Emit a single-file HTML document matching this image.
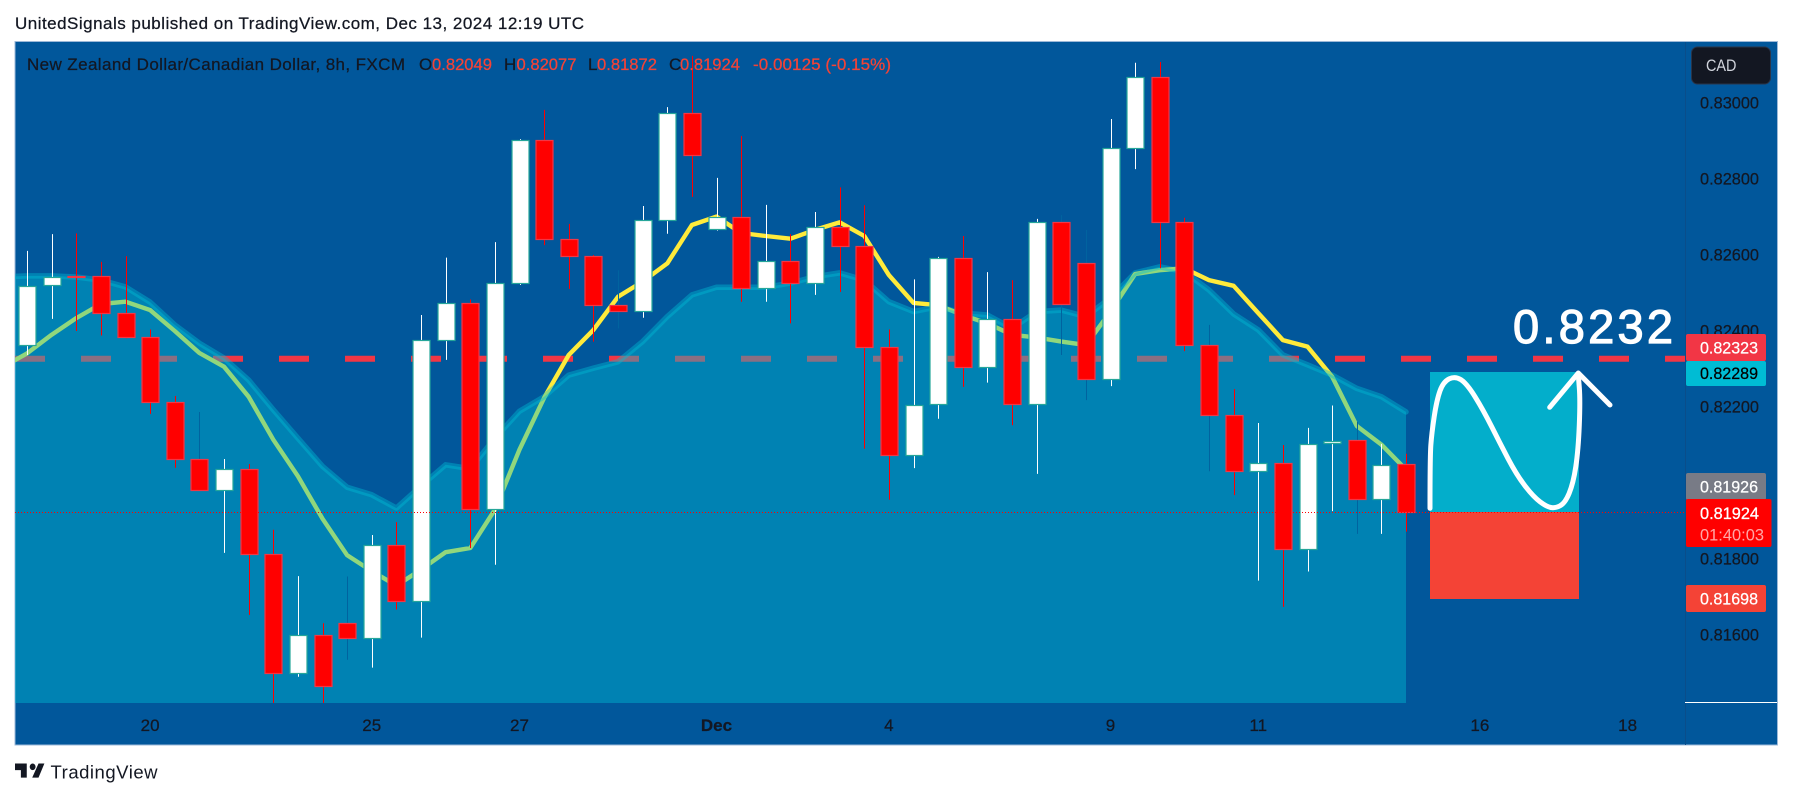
<!DOCTYPE html>
<html lang="en">
<head>
<meta charset="utf-8">
<title>NZD/CAD 8h chart</title>
<style>
html,body{margin:0;padding:0;background:#fff;width:1793px;height:798px;overflow:hidden}
svg{display:block}
text{font-family:"Liberation Sans",sans-serif}
</style>
</head>
<body>
<svg id="chart" xmlns="http://www.w3.org/2000/svg" width="1793" height="798" viewBox="0 0 1793 798">
  <defs>
    <clipPath id="pane-clip"><rect x="15" y="41" width="1671" height="662"/></clipPath>
  </defs>
  <rect x="0" y="0" width="1793" height="798" fill="#ffffff"/>
  <text x="15" y="29" font-size="17" fill="#131722" stroke="#131722" stroke-width="0.25" textLength="569" lengthAdjust="spacing">UnitedSignals published on TradingView.com, Dec 13, 2024 12:19 UTC</text>
  <rect x="15" y="41.5" width="1762.5" height="703.5" fill="#01579b" stroke="#9db9d8" stroke-width="1"/>
  <g id="pane" clip-path="url(#pane-clip)"></g>
  <line x1="1685.5" y1="42" x2="1685.5" y2="745" stroke="#0a4d8a" stroke-width="1"/>
  <line x1="1685" y1="702.5" x2="1777" y2="702.5" stroke="#ffffff" stroke-width="1"/>
  <g id="price-axis"></g>
  <g id="time-axis"></g>

  <g>
    <rect x="1430" y="372" width="149" height="140" fill="#03aecb"/>
    <rect x="1430" y="512" width="149" height="87" fill="#f44336"/>
  </g>
  <line id="last-price-line" x1="15" x2="1686" stroke="#ff0000" stroke-width="1" stroke-dasharray="1 2"/>
  <path id="forecast-curve" fill="none" stroke="#ffffff" stroke-width="5" stroke-linecap="round" stroke-linejoin="round"/>
  <path d="M1549.7 407.3 L1578.3 373 L1610 405" fill="none" stroke="#ffffff" stroke-width="5" stroke-linecap="round" stroke-linejoin="round"/>
  <text x="1513" y="343" font-size="47" fill="#ffffff" stroke="#ffffff" stroke-width="1.2" textLength="160" lengthAdjust="spacing">0.8232</text>

  <g font-size="17" stroke-width="0.25">
    <text x="27" y="70" fill="#131722" stroke="#131722" textLength="378" lengthAdjust="spacing">New Zealand Dollar/Canadian Dollar, 8h, FXCM</text>
    <text x="419" y="70" fill="#131722" stroke="#131722">O</text>
    <text x="432" y="70" fill="#f44336" stroke="#f44336" textLength="60" lengthAdjust="spacingAndGlyphs">0.82049</text>
    <text x="504" y="70" fill="#131722" stroke="#131722">H</text>
    <text x="516.5" y="70" fill="#f44336" stroke="#f44336" textLength="60" lengthAdjust="spacingAndGlyphs">0.82077</text>
    <text x="588" y="70" fill="#131722" stroke="#131722">L</text>
    <text x="597" y="70" fill="#f44336" stroke="#f44336" textLength="60" lengthAdjust="spacingAndGlyphs">0.81872</text>
    <text x="669" y="70" fill="#131722" stroke="#131722">C</text>
    <text x="680" y="70" fill="#f44336" stroke="#f44336" textLength="60" lengthAdjust="spacingAndGlyphs">0.81924</text>
    <text x="753" y="70" fill="#f44336" stroke="#f44336" textLength="138" lengthAdjust="spacing">-0.00125 (-0.15%)</text>
  </g>

  <g>
    <rect x="1691.5" y="47" width="79" height="37" rx="6" fill="#131722" stroke="#2a3448"/>
    <text x="1706" y="71" font-size="17" fill="#d1d4dc" textLength="30.5" lengthAdjust="spacingAndGlyphs">CAD</text>
  </g>

  <g font-size="17">
    <rect x="1686" y="334" width="80" height="27" rx="2" fill="#f23645"/>
    <text x="1700" y="353.5" fill="#ffffff" stroke="#ffffff" stroke-width="0.25" textLength="58" lengthAdjust="spacingAndGlyphs">0.82323</text>
    <rect x="1686" y="361" width="80" height="25" rx="2" fill="#00bcd4"/>
    <text x="1700" y="379" fill="#000000" stroke="#000000" stroke-width="0.25" textLength="58" lengthAdjust="spacingAndGlyphs">0.82289</text>
    <rect x="1686" y="473" width="80" height="27" rx="2" fill="#787b86"/>
    <text x="1700" y="492.5" fill="#ffffff" stroke="#ffffff" stroke-width="0.25" textLength="58" lengthAdjust="spacingAndGlyphs">0.81926</text>
    <rect x="1686" y="499" width="85.5" height="48" rx="2" fill="#ff0000"/>
    <text x="1700" y="519" fill="#ffffff" stroke="#ffffff" stroke-width="0.3" textLength="59" lengthAdjust="spacingAndGlyphs">0.81924</text>
    <text x="1700" y="540.5" fill="#ffffff" fill-opacity="0.65" textLength="64" lengthAdjust="spacingAndGlyphs">01:40:03</text>
    <rect x="1686" y="585" width="80" height="27" rx="2" fill="#f44336"/>
    <text x="1700" y="604.5" fill="#ffffff" stroke="#ffffff" stroke-width="0.25" textLength="58" lengthAdjust="spacingAndGlyphs">0.81698</text>
  </g>

  <g>
    <path transform="translate(15 763.5) scale(0.84 0.94)" d="M14 0H0v7h7v8h7V0Zm14 15h-7.5L28 0h7l-7 15ZM21 0a3.5 3.5 0 1 1-.01 7 3.5 3.5 0 0 1 .01-7Z" fill="#131722"/>
    <text x="50.5" y="778.5" font-size="18.5" fill="#131722" textLength="107" lengthAdjust="spacing">TradingView</text>
  </g>
</svg>
<script>
// ---- Chart data (prices) ----
const openVals = [0.82363,0.82520,0.82545,0.82544,0.82447,0.82385,0.82212,0.82062,0.81981,0.82038,0.81812,0.81499,0.81599,0.81631,0.81591,0.81836,0.81689,0.82376,0.82473,0.81931,0.82526,0.82902,0.82641,0.82597,0.82468,0.82452,0.82691,0.82973,0.82668,0.82701,0.82512,0.82585,0.82526,0.82674,0.82624,0.82359,0.82073,0.82208,0.82591,0.82304,0.82432,0.82208,0.82686,0.82578,0.82274,0.82881,0.83068,0.82686,0.82362,0.82178,0.82031,0.82052,0.81827,0.82104,0.82113,0.81957,0.82049];
const highVals = [0.82611,0.82655,0.82657,0.82582,0.82597,0.82404,0.82229,0.82187,0.82063,0.82050,0.81877,0.81755,0.81631,0.81754,0.81863,0.81897,0.82442,0.82593,0.82483,0.82634,0.82905,0.82982,0.82682,0.82600,0.82560,0.82729,0.82989,0.83124,0.82803,0.82913,0.82732,0.82655,0.82713,0.82778,0.82731,0.82404,0.82536,0.82595,0.82650,0.82555,0.82534,0.82695,0.82705,0.82666,0.82958,0.83106,0.83108,0.82698,0.82416,0.82247,0.82158,0.82100,0.82145,0.82204,0.82161,0.82103,0.82077];
const lowVals = [0.82337,0.82432,0.82400,0.82388,0.82381,0.82182,0.82040,0.81981,0.81816,0.81653,0.81403,0.81490,0.81413,0.81535,0.81514,0.81667,0.81593,0.82324,0.81829,0.81785,0.82521,0.82626,0.82511,0.82372,0.82407,0.82435,0.82656,0.82753,0.82664,0.82477,0.82477,0.82420,0.82495,0.82503,0.82090,0.81956,0.82039,0.82169,0.82253,0.82264,0.82152,0.82024,0.82337,0.82218,0.82255,0.82826,0.82565,0.82347,0.82031,0.81968,0.81743,0.81674,0.81767,0.81926,0.81866,0.81866,0.81872];
const closeVals = [0.82519,0.82543,0.82542,0.82447,0.82385,0.82212,0.82062,0.81981,0.82038,0.81812,0.81499,0.81599,0.81465,0.81591,0.81836,0.81689,0.82376,0.82473,0.81931,0.82526,0.82902,0.82641,0.82597,0.82468,0.82452,0.82691,0.82973,0.82862,0.82701,0.82512,0.82585,0.82526,0.82674,0.82624,0.82359,0.82073,0.82206,0.82591,0.82304,0.82432,0.82208,0.82686,0.82472,0.82274,0.82881,0.83068,0.82686,0.82362,0.82178,0.82031,0.82052,0.81827,0.82103,0.82111,0.81957,0.82048,0.81924];
const mutedWickBars = [7,13,24,42,43,48,54];
// moving average and cloud start one bar before the first visible candle
const maVals = [0.82305,0.82341,0.82390,0.82434,0.82471,0.82477,0.82455,0.82400,0.82342,0.82306,0.82227,0.82114,0.82018,0.81906,0.81810,0.81768,0.81730,0.81772,0.81818,0.81829,0.81930,0.82088,0.82224,0.82337,0.82403,0.82490,0.82530,0.82578,0.82679,0.82701,0.82658,0.82650,0.82643,0.82666,0.82686,0.82650,0.82547,0.82474,0.82468,0.82442,0.82420,0.82390,0.82383,0.82372,0.82363,0.82451,0.82550,0.82560,0.82565,0.82534,0.82519,0.82447,0.82376,0.82359,0.82280,0.82150,0.82101,0.82035];
const areaVals = [0.82542,0.82545,0.82545,0.82542,0.82534,0.82516,0.82476,0.82416,0.82368,0.82329,0.82271,0.82193,0.82118,0.82044,0.81989,0.81969,0.81934,0.81992,0.82048,0.82038,0.82118,0.82189,0.82227,0.82284,0.82302,0.82319,0.82372,0.82438,0.82495,0.82515,0.82515,0.82515,0.82526,0.82543,0.82553,0.82534,0.82477,0.82451,0.82464,0.82447,0.82442,0.82407,0.82451,0.82455,0.82438,0.82487,0.82553,0.82569,0.82556,0.82508,0.82445,0.82403,0.82337,0.82311,0.82284,0.82249,0.82227,0.82187];
const priceTickVals = [0.83,0.828,0.826,0.824,0.822,0.818,0.816];
const timeTickLabels = ["20","25","27","Dec","4","9","11","16","18"];
const timeTickBars = [5,14,20,28,35,44,50,59,65];
const boldTimeTicks = ["Dec"];
const targetLevel = 0.82327;
const lastPrice = 0.81924;

// ---- Axis functions ----
const SVG_NS = "http://www.w3.org/2000/svg";
function xScale(bar){ return 27 + 24.625 * bar; }
function yScale(price){ return 103 + (0.83 - price) * 38000; }
function make(tag, parent){
  const el = document.createElementNS(SVG_NS, tag);
  parent.appendChild(el);
  return el;
}

const pane = document.getElementById("pane");
const PANE_BOTTOM = 703;

// Target dashed level (sits underneath the cloud)
const targetLine = make("line", pane);


targetLine.setAttribute("x1", 15);
targetLine.setAttribute("x2", 1686);
targetLine.setAttribute("y1", yScale(targetLevel));
targetLine.setAttribute("y2", yScale(targetLevel));
targetLine.setAttribute("stroke", "#f23645");
targetLine.setAttribute("stroke-width", 6);
targetLine.setAttribute("stroke-dasharray", "30 36");

// Moving average
const maLine = make("polyline", pane);


maLine.setAttribute("points", maVals.map((v, i) => xScale(i - 1).toFixed(1) + "," + yScale(v).toFixed(1)).join(" "));
maLine.setAttribute("fill", "none");
maLine.setAttribute("stroke", "#ffeb3b");
maLine.setAttribute("stroke-width", 4.4);
maLine.setAttribute("stroke-linejoin", "round");

// Cloud area
const areaPts = areaVals.map((v, i) => xScale(i - 1).toFixed(1) + "," + yScale(v).toFixed(1));
const areaFill = make("polygon", pane);


areaFill.setAttribute("points", areaPts.join(" ") + " " + xScale(areaVals.length - 2).toFixed(1) + "," + PANE_BOTTOM + " " + xScale(-1).toFixed(1) + "," + PANE_BOTTOM);
areaFill.setAttribute("fill", "#00bcd4");
areaFill.setAttribute("fill-opacity", "0.43");
const areaEdge = make("polyline", pane);


areaEdge.setAttribute("points", areaPts.join(" "));
areaEdge.setAttribute("fill", "none");
areaEdge.setAttribute("stroke", "#00bcd4");
areaEdge.setAttribute("stroke-opacity", "0.42");
areaEdge.setAttribute("stroke-width", 5.5);
areaEdge.setAttribute("stroke-linecap", "round");
areaEdge.setAttribute("stroke-linejoin", "round");

// Candles
openVals.forEach((open, i) => {
  const close = closeVals[i];
  const up = close >= open;
  const cx = Math.round(xScale(i));
  const g = make("g", pane);
  
  
  const wick = make("line", g);
  
  
  wick.setAttribute("x1", cx + 0.5);
  wick.setAttribute("x2", cx + 0.5);
  wick.setAttribute("y1", yScale(highVals[i]));
  wick.setAttribute("y2", yScale(lowVals[i]));
  wick.setAttribute("stroke", mutedWickBars.includes(i) ? "#01639f" : (up ? "#ffffff" : "#ff0000"));
  wick.setAttribute("stroke-width", 1);
  const top = Math.round(yScale(Math.max(open, close)));
  const bottom = Math.round(yScale(Math.min(open, close)));
  const body = make("rect", g);
  
  
  body.setAttribute("x", cx - 8);
  body.setAttribute("y", top + 0.5);
  body.setAttribute("width", 17);
  body.setAttribute("height", Math.max(bottom - top, 1));
  body.setAttribute("fill", up ? "#ffffff" : "#ff0000");
  body.setAttribute("stroke", up ? "#26a69a" : "#f23645");
  body.setAttribute("stroke-width", 1.2);
});

// Last price dotted line
const lastLine = document.getElementById("last-price-line");
lastLine.setAttribute("y1", Math.round(yScale(lastPrice)) + 0.5);
lastLine.setAttribute("y2", Math.round(yScale(lastPrice)) + 0.5);

// Price axis ticks
const priceAxis = document.getElementById("price-axis");
priceTickVals.forEach((p) => {
  const t = make("text", priceAxis);
  
  
  t.setAttribute("x", 1700);
  t.setAttribute("y", yScale(p) + 5.5);
  t.setAttribute("font-size", 17);
  t.setAttribute("fill", "#131722");
  t.setAttribute("stroke", "#131722");
  t.setAttribute("stroke-width", 0.25);
  t.setAttribute("textLength", 59);
  t.setAttribute("lengthAdjust", "spacingAndGlyphs");
  t.textContent = p.toFixed(5);
});

// Time axis ticks
const timeAxis = document.getElementById("time-axis");
timeTickLabels.forEach((label, i) => {
  const t = make("text", timeAxis);
  
  
  t.setAttribute("x", xScale(timeTickBars[i]));
  t.setAttribute("y", 731);
  t.setAttribute("font-size", 17);
  t.setAttribute("text-anchor", "middle");
  t.setAttribute("fill", "#131722");
  t.setAttribute("stroke", "#131722");
  t.setAttribute("stroke-width", 0.25);
  if (boldTimeTicks.includes(label)) t.setAttribute("font-weight", "700");
  t.textContent = label;
});

// Hand-drawn forecast curve, smoothed through midpoints
const curvePoints = [[1430,508.3],[1430,456.7],[1431.7,433.3],[1436.7,400],[1443.3,381.7],[1455,376],[1466.7,383.3],[1483.3,410],[1500,443.3],[1516.7,475],[1533.3,496.7],[1546.7,506.7],[1555,508.3],[1565,503.3],[1573.3,483.3],[1578.3,450],[1580.3,400],[1578.3,375]];
let curveD = "M" + curvePoints[0].join(" ");
for (let i = 1; i < curvePoints.length - 1; i++) {
  const mx = (curvePoints[i][0] + curvePoints[i + 1][0]) / 2;
  const my = (curvePoints[i][1] + curvePoints[i + 1][1]) / 2;
  curveD += " Q" + curvePoints[i].join(" ") + " " + mx + " " + my;
}
curveD += " L" + curvePoints[curvePoints.length - 1].join(" ");
document.getElementById("forecast-curve").setAttribute("d", curveD);
</script>
</body>
</html>
